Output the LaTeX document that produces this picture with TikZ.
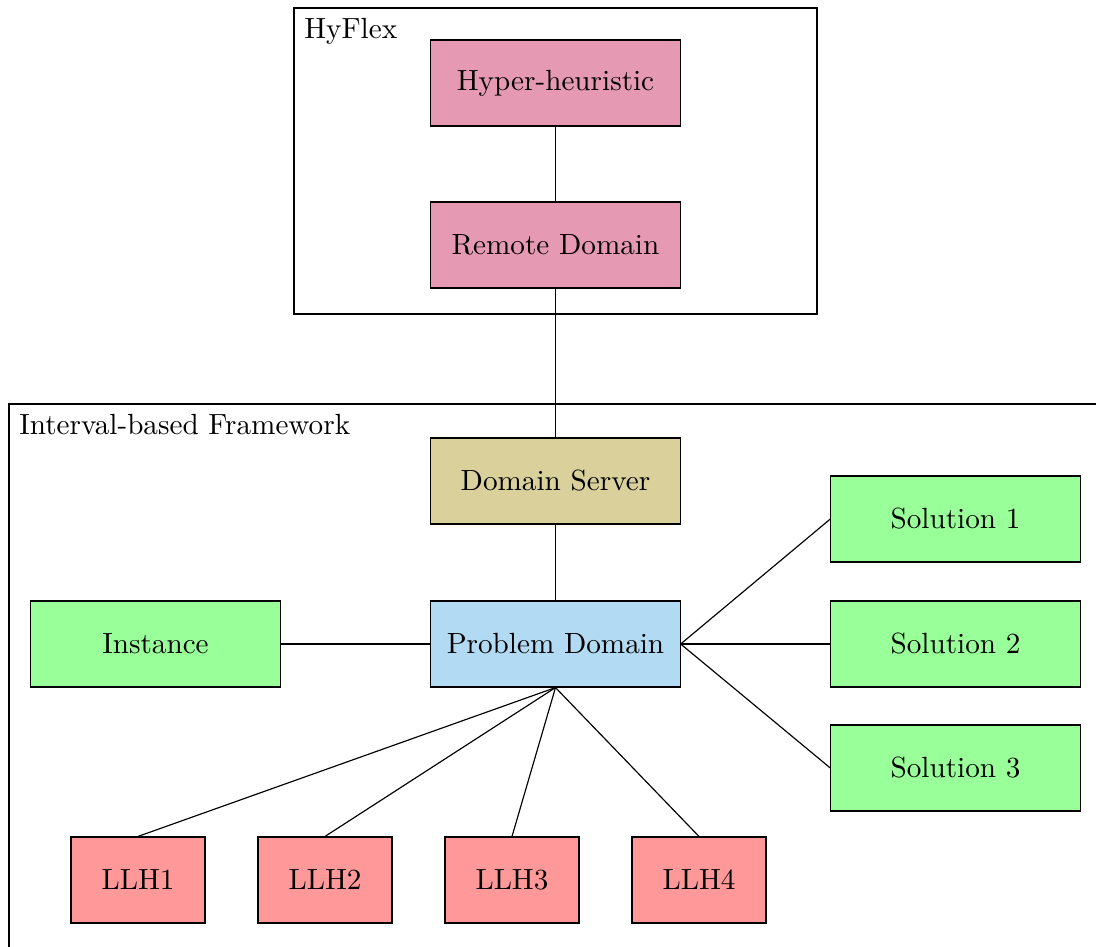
\documentclass[tikz,border=0pt]{standalone}
\begin{document}
\definecolor{hhpink}{RGB}{230,153,179}
\definecolor{dskhaki}{RGB}{217,208,155}
\definecolor{pdblue}{RGB}{178,218,242}
\definecolor{solgreen}{RGB}{153,255,153}
\definecolor{llhred}{RGB}{255,153,153}
\begin{tikzpicture}[x=0.01204cm,y=-0.01204cm,
  bigbox/.style={draw,minimum width=3cm,minimum height=1.035cm,inner sep=0pt},
  llhbox/.style={draw,fill=llhred,minimum width=1.613cm,minimum height=1.035cm,inner sep=0pt},
  frame/.style={draw},
  framelabel/.style={anchor=north west,inner sep=3.33pt}]
\clip (0,0) rectangle (1096,947);
\useasboundingbox (0,0) rectangle (1096,947);
% frames
\draw[frame] (294,8) rectangle (817,314);
\node[framelabel] (hyflexlab) at (294,8) {HyFlex};
\draw[frame] (9,404) rectangle (1120,970);
\node[framelabel] (ibflab) at (9,404) {Interval-based Framework};
% nodes
\node[bigbox,fill=hhpink] (hh) at (555.5,83) {Hyper-heuristic};
\node[bigbox,fill=hhpink] (rd) at (555.5,245) {Remote Domain};
\node[bigbox,fill=dskhaki] (ds) at (555.5,481) {Domain Server};
\node[bigbox,fill=pdblue] (pd) at (555.5,644) {Problem Domain};
\node[bigbox,fill=solgreen] (inst) at (155.5,644) {Instance};
\node[bigbox,fill=solgreen] (s1) at (955.5,519) {Solution 1};
\node[bigbox,fill=solgreen] (s2) at (955.5,644) {Solution 2};
\node[bigbox,fill=solgreen] (s3) at (955.5,768) {Solution 3};
\node[llhbox] (l1) at (138,880) {LLH1};
\node[llhbox] (l2) at (325,880) {LLH2};
\node[llhbox] (l3) at (512,880) {LLH3};
\node[llhbox] (l4) at (699,880) {LLH4};
% connectors
\draw (hh.south) -- (rd.north);
\draw (rd.south) -- (ds.north);
\draw (ds.south) -- (pd.north);
\draw (inst.east) -- (pd.west);
\draw (pd.east) -- (s1.west);
\draw (pd.east) -- (s2.west);
\draw (pd.east) -- (s3.west);
\draw (pd.south) -- (l1.north);
\draw (pd.south) -- (l2.north);
\draw (pd.south) -- (l3.north);
\draw (pd.south) -- (l4.north);
\end{tikzpicture}
\end{document}
